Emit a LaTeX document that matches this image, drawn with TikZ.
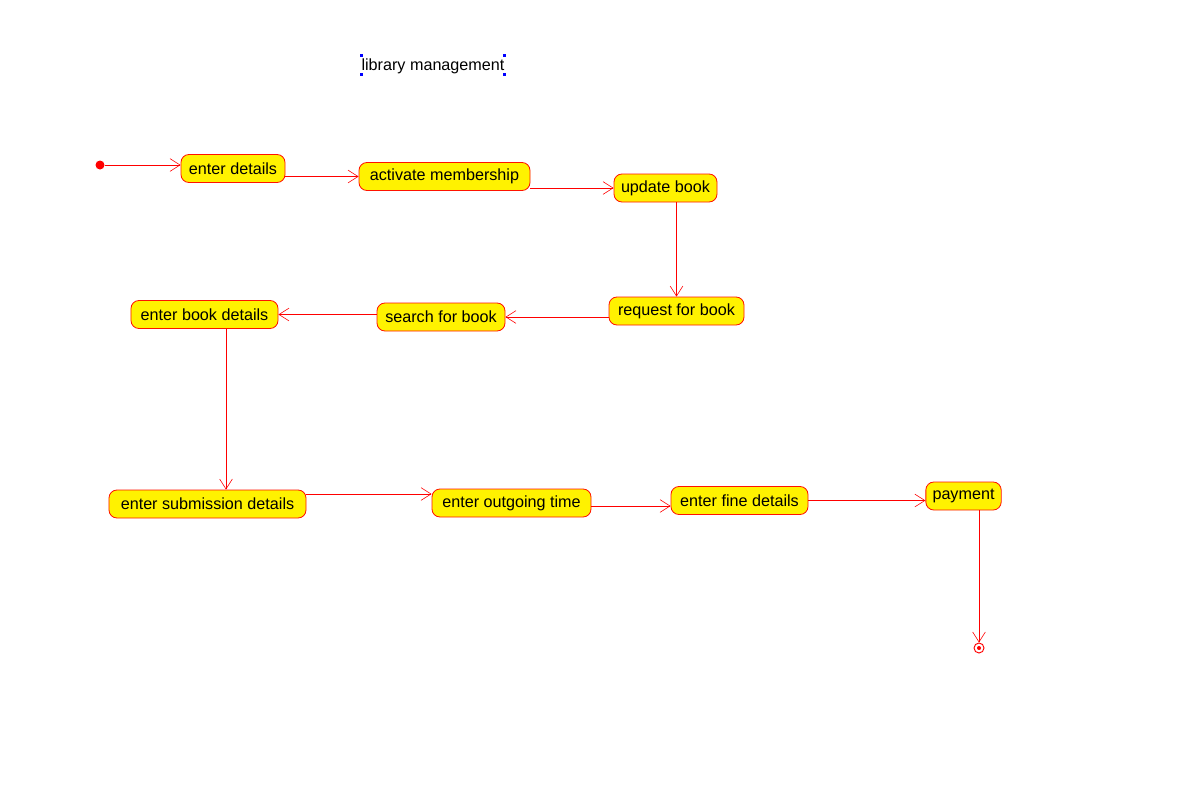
\documentclass[tikz,border=0pt]{standalone}
\usepackage{fontspec}
\setmainfont{Liberation Sans}
\usetikzlibrary{%
  positioning,
  calc,
  arrows.meta
}
\tikzset{
  activity/.style = {draw = red!85!orange, line width = 0.7pt, fill = yellow,
    rounded corners = 0.24cm, minimum height = 0.84cm, minimum width = #1,
    inner xsep = 0.2cm, inner ysep = 0, font = \fontsize{13.8}{16}\selectfont},
  activity/.default = 2cm,
  flow/.style = {draw = red, line width = 0.5pt,
    -{Straight Barb[length = 0.3cm, width = 0.38cm]}},
  startstate/.style = {circle, fill = red, inner sep = 0, minimum size = 0.27cm},
  endstate/.style = {circle, draw = red, thick, fill = white, inner sep = 0, minimum size = 0.3cm},
  handle/.style = {fill = blue, minimum size = 0.09cm, inner sep = 0}
}
\begin{document}
\begin{tikzpicture}[x = 0.03cm, y = -0.03cm]
  \useasboundingbox (0,0) rectangle (1188,804);
  % title
  \node (title) [font = \fontsize{13.8}{16}\selectfont, inner sep = 0, minimum height = 0.57cm, minimum width = 4.26cm] at (433,66.5) {library management};
  \foreach \c in {north west, north east, south west, south east}
    \node [handle] at ($(title.\c)+(0,-1.5)$) {};
  % states, first row
  \node (start) [startstate] at (100,165) {};
  \node (enterdet) [activity = 3.12cm] at (233,168.5) {enter details};
  \node (activate) [activity = 5.13cm] at (444.5,176.5) {activate membership};
  \node (update) [activity = 3.09cm] at (665.5,188) {update book};
  % second row
  \node (request) [activity = 4.05cm] at (676.5,311) {request for book};
  \node (search) [activity = 3.84cm] at (441,317) {search for book};
  \node (bookdet) [activity = 4.41cm] at (204.5,314.5) {enter book details};
  % third row
  \node (submit) [activity = 5.91cm] at (207.5,504) {enter submission details};
  \node (outgoing) [activity = 4.77cm] at (511.5,503) {enter outgoing time};
  \node (fine) [activity = 4.11cm] at (739.5,500.5) {enter fine details};
  \node (payment) [activity = 2.25cm] at (963.5,496) {payment};
  \node (final) [endstate] at (979,648) {};
  \fill [red] (final) circle (2);
  % transitions
  \draw [flow] (start.east) -- (start.east -| enterdet.west);
  \draw [flow] (enterdet.east |- activate) -- (activate.west);
  \draw [flow] (activate.east |- update) -- (update.west);
  \draw [flow] (update.south -| request) -- (request.north);
  \draw [flow] (request.west |- search) -- (search.east);
  \draw [flow] (search.west |- bookdet) -- (bookdet.east);
  \coordinate (down) at ($(bookdet.south)+(21.5,0)$);
  \draw [flow] (down) -- (down |- submit.north);
  \coordinate (across) at ($(submit.east)+(0,-10)$);
  \draw [flow] (across) -- (across -| outgoing.west);
  \coordinate (over) at ($(outgoing.east)+(0,3)$);
  \draw [flow] (over) -- (over -| fine.west);
  \draw [flow] (fine.east) -- (fine.east -| payment.west);
  \draw [flow] (payment.south -| final) -- (final.north);
\end{tikzpicture}
\end{document}
